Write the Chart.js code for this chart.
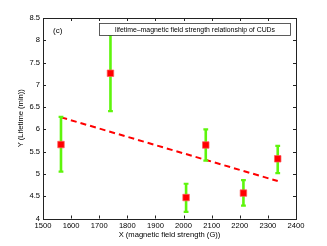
<!DOCTYPE html>
<html>
<head>
<meta charset="utf-8">
<script src="https://cdn.jsdelivr.net/npm/chart.js@4.4.1/dist/chart.umd.min.js"></script>
<style>
html,body{margin:0;padding:0;background:#fff;}
#wrap{width:327px;height:246px;position:relative;}
</style>
</head>
<body>
<div id="wrap"><canvas id="c"></canvas></div>
<script>
// Data
const fieldStrength = [1564, 1740, 2009, 2079, 2213, 2335];
const lifetime      = [5.66, 7.26, 4.47, 5.65, 4.57, 5.34];
const lifetimeUpper = [6.28, 8.12, 4.78, 6.00, 4.86, 5.63];
const lifetimeLower = [5.05, 6.41, 4.15, 5.30, 4.29, 5.02];
const trendX = [1565, 2335];
const trendY = [6.27, 4.84];
const xTicks = [1500, 1600, 1700, 1800, 1900, 2000, 2100, 2200, 2300, 2400];
const yTicks = [4, 4.5, 5, 5.5, 6, 6.5, 7, 7.5, 8, 8.5];
const xTitle = 'X (magnetic field strength (G))';
const yTitle = 'Y (Lifetime (min))';
const boxTitle = 'lifetime\u2013magnetic field strength relationship of CUDs';
const panelLabel = '(c)';

const GREEN = '#5ef50c';
const RED = '#ff0000';
const FONT = '"Liberation Sans", Arial, Helvetica, sans-serif';

const datasets = [];
datasets.push({
  type: 'scatter',
  label: 'data',
  data: fieldStrength.map((x, i) => ({x: x, y: lifetime[i]})),
  pointStyle: 'rect',
  pointRadius: 4.6,
  backgroundColor: RED,
  borderColor: 'rgba(255,90,90,0.7)',
  borderWidth: 1,
  order: 0
});
fieldStrength.forEach((x, i) => {
  datasets.push({
    type: 'line',
    label: 'err' + i,
    data: [{x: x, y: lifetimeLower[i]}, {x: x, y: lifetimeUpper[i]}],
    borderColor: GREEN,
    borderWidth: 2.6,
    pointStyle: 'line',
    pointRadius: 2.4,
    pointBorderColor: GREEN,
    pointBorderWidth: 2.2,
    pointBackgroundColor: GREEN,
    fill: false,
    order: 1
  });
});
datasets.push({
  type: 'line',
  label: 'trend',
  data: trendX.map((x, i) => ({x: x, y: trendY[i]})),
  borderColor: RED,
  borderWidth: 2,
  borderDash: [6, 4],
  pointRadius: 0,
  fill: false,
  order: 2
});

const decor = {
  id: 'decor',
  afterDraw(chart) {
    const ctx = chart.ctx;
    const a = chart.chartArea;
    const xs = chart.scales.x, ys = chart.scales.y;
    ctx.save();
    ctx.strokeStyle = '#222';
    ctx.lineWidth = 1;
    ctx.strokeRect(Math.round(a.left) + 0.5, Math.round(a.top) + 0.5,
                   Math.round(a.right - a.left), Math.round(a.bottom - a.top));
    const tl = 3;
    ctx.beginPath();
    xTicks.forEach(v => {
      const px = Math.round(xs.getPixelForValue(v)) + 0.5;
      ctx.moveTo(px, a.bottom); ctx.lineTo(px, a.bottom - tl);
      ctx.moveTo(px, a.top); ctx.lineTo(px, a.top + tl);
    });
    yTicks.forEach(v => {
      const py = Math.round(ys.getPixelForValue(v)) + 0.5;
      ctx.moveTo(a.left, py); ctx.lineTo(a.left + tl, py);
      ctx.moveTo(a.right, py); ctx.lineTo(a.right - tl, py);
    });
    ctx.stroke();

    // axis titles
    ctx.fillStyle = '#000';
    ctx.font = '7.6px ' + FONT;
    ctx.textAlign = 'center';
    ctx.textBaseline = 'middle';
    ctx.fillText(xTitle, (a.left + a.right) / 2, 235);
    ctx.save();
    ctx.translate(21, (a.top + a.bottom) / 2);
    ctx.rotate(-Math.PI / 2);
    ctx.fillText(yTitle, 0, 0);
    ctx.restore();

    // panel label
    ctx.font = '8px ' + FONT;
    ctx.textAlign = 'left';
    ctx.fillText(panelLabel, 53, 30.5);

    // title box
    ctx.fillStyle = '#fff';
    ctx.fillRect(99.5, 23.5, 191, 12);
    ctx.strokeStyle = '#333';
    ctx.lineWidth = 0.8;
    ctx.strokeRect(99.5, 23.5, 191, 12);
    ctx.fillStyle = '#000';
    ctx.font = '6.9px ' + FONT;
    ctx.textAlign = 'center';
    ctx.fillText(boxTitle, 195, 29.8);
    ctx.restore();
  }
};

new Chart(document.getElementById('c'), {
  type: 'scatter',
  data: { datasets: datasets },
  options: {
    responsive: true,
    maintainAspectRatio: false,
    animation: false,
    events: [],
    layout: { padding: { top: 18, right: 31, left: 0, bottom: 0 } },
    plugins: { legend: { display: false }, tooltip: { enabled: false } },
    scales: {
      x: {
        type: 'linear', min: 1500, max: 2400,
        afterBuildTicks: s => { s.ticks = xTicks.map(v => ({value: v})); },
        afterFit: s => { s.height = 27.5; },
        grid: { display: false, drawTicks: false },
        border: { display: false },
        ticks: { color: '#000', font: { family: FONT, size: 7.6 }, padding: 3, maxRotation: 0, autoSkip: false,
                 callback: v => String(v) }
      },
      y: {
        type: 'linear', min: 4, max: 8.5,
        afterBuildTicks: s => { s.ticks = yTicks.map(v => ({value: v})); },
        afterFit: s => { s.width = 43; },
        grid: { display: false, drawTicks: false },
        border: { display: false },
        ticks: { color: '#000', font: { family: FONT, size: 7.6 }, padding: 3, autoSkip: false,
                 callback: v => String(v) }
      }
    }
  },
  plugins: [decor]
});
</script>
</body>
</html>
